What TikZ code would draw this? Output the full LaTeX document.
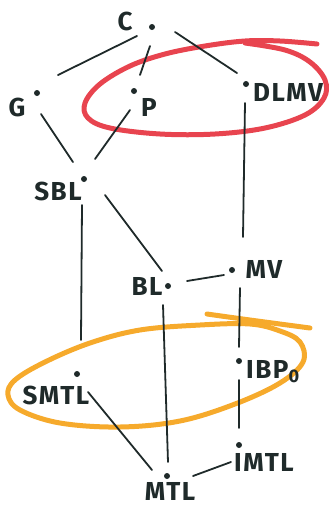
\documentclass[tikz,border=0pt]{standalone}
\usepackage{fontspec}
\setsansfont{Fira Sans}[LetterSpace=6]
\usetikzlibrary{calc}
\definecolor{ink}{HTML}{1F2A2A}
\definecolor{redloop}{HTML}{E8444F}
\definecolor{orangeloop}{HTML}{F6AA2C}
\begin{document}
\begin{tikzpicture}[x=1pt,y=-1pt,
  dot/.style={circle,fill=ink,inner sep=0pt,minimum size=6pt},
  lbl/.style={font=\sffamily\bfseries\fontsize{26}{26}\selectfont,text=ink,inner sep=0pt},
  conn/.style={draw=ink,line width=1.8pt,line cap=round},
  ring/.style={line width=5pt,line cap=round,line join=round}]
\useasboundingbox (0,0) rectangle (329,507);
% loops
\draw[ring,redloop] plot[smooth,tension=0.6] coordinates {(317,44) (280,41) (245,41) (205,46) (165,54) (130,66) (100,84) (85,103) (88,118) (110,128) (160,134) (215,134) (265,128) (305,115) (324,98) (325,80) (310,62) (285,50) (245,43)};
\draw[ring,orangeloop] plot[smooth cycle,tension=0.6] coordinates {(250,324) (200,325) (140,330) (90,343) (45,362) (15,380) (8,395) (20,410) (60,423) (120,427) (180,421) (235,404) (280,383) (303,362) (300,342) (280,331)};
\draw[ring,orangeloop] plot[smooth,tension=0.6] coordinates {(207,314) (250,320) (310,328)};
% dots
\node[dot] (C) at (152,27) {};
\node[dot] (G) at (37,93) {};
\node[dot] (P) at (134,91) {};
\node[dot] (DLMV) at (246,84) {};
\node[dot] (SBL) at (84,179) {};
\node[dot] (BL) at (168,286) {};
\node[dot] (MV) at (232,270) {};
\node[dot] (SMTL) at (77,374) {};
\node[dot] (IBP) at (239,361) {};
\node[dot] (IMTL) at (239,445) {};
\node[dot] (MTL) at (167,476) {};
% labels
\node[lbl] (lC) at (125,21) {C};
\node[lbl] (lG) at (17,107) {G};
\node[lbl] (lP) at (149,107) {P};
\node[lbl] (lDLMV) at (288,92) {DLMV};
\node[lbl] (lSBL) at (58,191) {SBL};
\node[lbl] (lBL) at (147,286) {BL};
\node[lbl] (lMV) at (264,269) {MV};
\node[lbl] (lSMTL) at (56,395) {SMTL};
\node[lbl,anchor=west] (lIBP) at (246,372) {IBP\textsubscript{0}};
\node[lbl] (lIMTL) at (264,462) {IMTL};
\node[lbl] (lMTL) at (170,491) {MTL};
% connectors
\draw[conn] ($(C)+(-15,9)$) -- ($(G)+(21,-18)$);
\draw[conn] ($(C)+(-2,19)$) -- ($(P)+(6,-16)$);
\draw[conn] ($(C)+(23,5)$) -- ($(DLMV)+(-9,-11)$);
\draw[conn] ($(G)+(4,21)$) -- ($(SBL)+(-11,-17)$);
\draw[conn] ($(P)+(-4,19)$) -- ($(SBL)+(11,-20)$);
\draw[conn] ($(SBL)+(-2,26)$) -- ($(SMTL)+(4,-34)$);
\draw[conn] ($(SBL)+(21,16)$) -- ($(BL)+(-6,-15)$);
\draw[conn] ($(DLMV)+(-1,19)$) -- ($(MV)+(11,-33)$);
\draw[conn] ($(BL)+(19,-5)$) -- ($(MV)+(-8,5)$);
\draw[conn] ($(MV)+(8,18)$) -- ($(IBP)+(0,-14)$);
\draw[conn] ($(BL)+(-5,19)$) -- ($(MTL)+(1,-14)$);
\draw[conn] ($(IBP)+(0,19)$) -- ($(IMTL)+(0,-17)$);
\draw[conn] ($(SMTL)+(11,18)$) -- ($(MTL)+(-15,-6)$);
\draw[conn] ($(MTL)+(26,0)$) -- ($(IMTL)+(-8,17)$);
\end{tikzpicture}
\end{document}
